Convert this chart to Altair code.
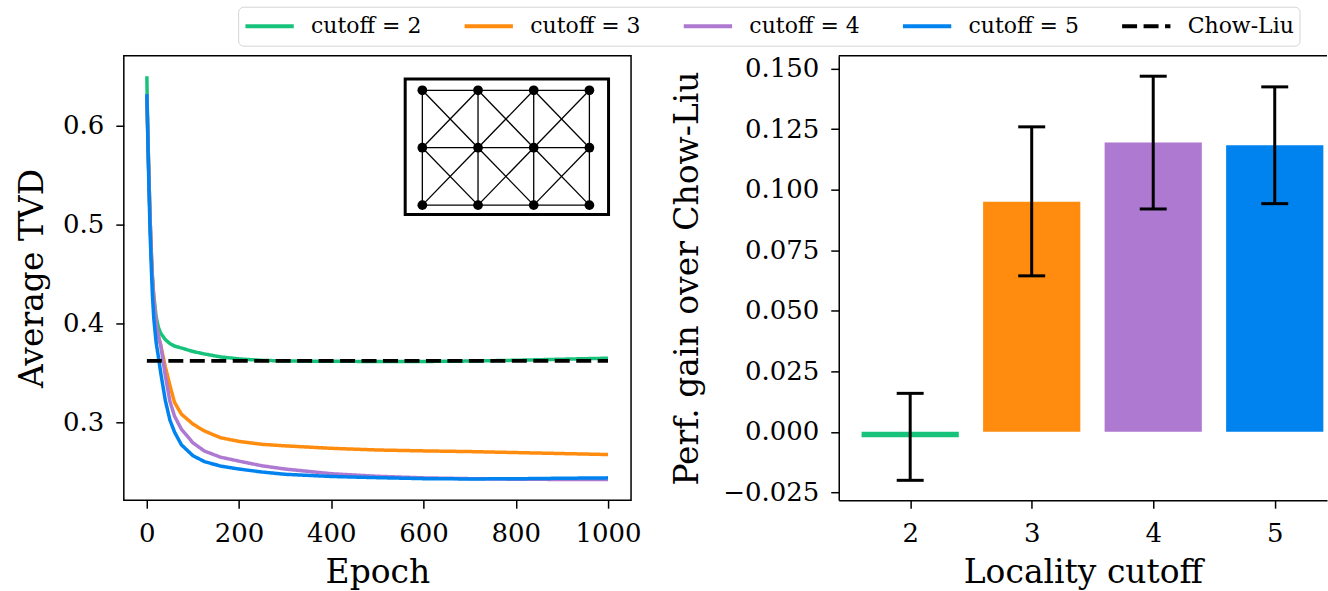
import altair as alt
import pandas as pd

FONT = "DejaVu Serif"

# ---------------- data: left panel (training curves) ----------------
EPOCHS = [0, 1, 2, 4, 7, 10, 12, 15, 20, 25, 30, 40, 50, 60, 75, 100, 125,
          160, 200, 250, 300, 400, 500, 600, 700, 800, 900, 1000]
TVD_CUT2 = [0.650, 0.618, 0.595, 0.556, 0.505, 0.465, 0.447, 0.428, 0.407,
            0.396, 0.390, 0.3835, 0.3795, 0.377, 0.375, 0.3715, 0.369, 0.366,
            0.364, 0.3625, 0.3619, 0.3616, 0.3614, 0.3614, 0.3618, 0.3626,
            0.3637, 0.3647]
TVD_CUT3 = [0.632, 0.612, 0.592, 0.555, 0.505, 0.467, 0.446, 0.424, 0.400,
            0.387, 0.378, 0.356, 0.337, 0.320, 0.308, 0.298, 0.291, 0.2842,
            0.2805, 0.2775, 0.2760, 0.2735, 0.2718, 0.2709, 0.2702, 0.2692,
            0.2682, 0.2672]
TVD_CUT4 = [0.632, 0.612, 0.592, 0.555, 0.505, 0.467, 0.446, 0.424, 0.400,
            0.387, 0.378, 0.347, 0.321, 0.306, 0.2928, 0.279, 0.2707, 0.2645,
            0.2605, 0.2558, 0.2525, 0.2478, 0.2452, 0.2436, 0.2428, 0.2422,
            0.2420, 0.2419]
TVD_CUT5 = [0.632, 0.610, 0.588, 0.547, 0.492, 0.452, 0.429, 0.405, 0.381,
            0.366, 0.350, 0.322, 0.302, 0.290, 0.277, 0.266, 0.260, 0.2555,
            0.2525, 0.2495, 0.2472, 0.2450, 0.2438, 0.2428, 0.2425, 0.2427,
            0.2432, 0.2436]
CHOW_LIU_TVD = 0.362

SERIES = ["cutoff = 2", "cutoff = 3", "cutoff = 4", "cutoff = 5", "Chow-Liu"]
COLORS = ["#17c37b", "#ff8c0e", "#ae79d1", "#0082ef", "#000000"]
DASHES = [[1, 0], [1, 0], [1, 0], [1, 0], [15, 6.5]]

# ---------------- data: right panel (bars) ----------------
CUTOFFS = [2, 3, 4, 5]
GAIN = [-0.0022, 0.0950, 0.1194, 0.1183]
ERR_LO = [-0.0200, 0.0644, 0.0920, 0.0942]
ERR_HI = [0.0159, 0.1259, 0.1468, 0.1424]

# ---------------- inset graph structure (3 x 4 king's graph) ----------------
GRID_COLS = [0, 1, 2, 3]
GRID_ROWS = [0, 1, 2]

# ---------------- build tables ----------------
rows = []
for name, vals in zip(SERIES[:4], [TVD_CUT2, TVD_CUT3, TVD_CUT4, TVD_CUT5]):
    for e, v in zip(EPOCHS, vals):
        rows.append({"epoch": e, "tvd": v, "series": name})
lines_df = pd.DataFrame(rows)
chow_df = pd.DataFrame([{"start": EPOCHS[0], "end": EPOCHS[-1],
                         "tvd": CHOW_LIU_TVD, "series": "Chow-Liu"}])

nodes_df = pd.DataFrame([{"c": c, "r": r} for r in GRID_ROWS for c in GRID_COLS])
edge_rows = []
cset, rset = set(GRID_COLS), set(GRID_ROWS)
for r in GRID_ROWS:
    for c in GRID_COLS:
        for dc, dr in [(1, 0), (0, 1), (1, 1), (-1, 1)]:
            if c + dc in cset and r + dr in rset:
                edge_rows.append({"c": c, "r": r, "c2": c + dc, "r2": r + dr})
edges_df = pd.DataFrame(edge_rows)
box_df = pd.DataFrame([{"c": min(GRID_COLS) - 0.308, "c2": max(GRID_COLS) + 0.344,
                        "r": min(GRID_ROWS) - 0.195, "r2": max(GRID_ROWS) + 0.165}])

bar_df = pd.DataFrame({"cutoff": CUTOFFS, "gain": GAIN, "lo": ERR_LO,
                       "hi": ERR_HI, "series": SERIES[:4]})

# ---------------- left panel ----------------
WL, WR, H = 508, 489, 445
TICK, LPAD = 8, 12

color_scale = alt.Scale(domain=SERIES, range=COLORS)
dash_scale = alt.Scale(domain=SERIES, range=DASHES)
legend = alt.Legend(orient="none", legendX=114.5, legendY=-49.2, direction="horizontal",
                    columns=5, title=None, symbolType="stroke", symbolSize=2343,
                    symbolStrokeWidth=4, clipHeight=29, labelFont=FONT,
                    labelFontSize=22, labelColor="black", labelOffset=15,
                    strokeColor="#d4d4d4", fillColor="white", padding=5,
                    cornerRadius=5, columnPadding=40.5)

x_ep = alt.X("epoch:Q", scale=alt.Scale(domain=[-50, 1050], nice=False, zero=False),
             axis=alt.Axis(title="Epoch", values=[0, 200, 400, 600, 800, 1000],
                           format="d", labelPadding=12, titlePadding=10))
y_tvd = alt.Y("tvd:Q", scale=alt.Scale(domain=[0.221, 0.6707], nice=False, zero=False),
              axis=alt.Axis(title="Average TVD", values=[0.3, 0.4, 0.5, 0.6],
                            format=".1f", labelPadding=LPAD, titlePadding=13))

lines = alt.Chart(lines_df).mark_line(strokeWidth=3.5).encode(
    x=x_ep, y=y_tvd,
    color=alt.Color("series:N", scale=color_scale, legend=legend),
    strokeDash=alt.StrokeDash("series:N", scale=dash_scale, legend=legend),
)
chow = alt.Chart(chow_df).mark_rule(strokeWidth=4).encode(
    x="start:Q", x2="end:Q", y="tvd:Q",
    color=alt.Color("series:N", scale=color_scale, legend=legend),
    strokeDash=alt.StrokeDash("series:N", scale=dash_scale, legend=legend),
)
main = alt.layer(lines, chow)

ix = alt.Scale(domain=[-5.361, 3.748], nice=False, zero=False)
iy = alt.Scale(domain=[-0.6, 7.139], nice=False, zero=False, reverse=True)
box = alt.Chart(box_df).mark_rect(fill="white", stroke="black", strokeWidth=3).encode(
    x=alt.X("c:Q", scale=ix, axis=None), x2="c2:Q",
    y=alt.Y("r:Q", scale=iy, axis=None), y2="r2:Q")
edges = alt.Chart(edges_df).mark_rule(color="black", strokeWidth=1.3).encode(
    x=alt.X("c:Q", scale=ix, axis=None), x2="c2:Q",
    y=alt.Y("r:Q", scale=iy, axis=None), y2="r2:Q")
nodes = alt.Chart(nodes_df).mark_circle(color="black", opacity=1, size=95).encode(
    x=alt.X("c:Q", scale=ix, axis=None),
    y=alt.Y("r:Q", scale=iy, axis=None))
inset = alt.layer(box, edges, nodes)

left = alt.layer(main, inset).resolve_scale(x="independent", y="independent").properties(
    width=WL, height=H)

# ---------------- right panel ----------------
STEP = 121.7  # px per cutoff unit in the reference
x_lo = 1.412
x_cut = alt.X("x0:Q", scale=alt.Scale(domain=[x_lo, x_lo + WR / STEP], nice=False, zero=False),
              axis=alt.Axis(title="Locality cutoff", values=CUTOFFS, format="d",
                            labelPadding=12, titlePadding=10, domain=True,
                            domainColor="black", domainWidth=1.5))
y_gain = alt.Y("gain:Q", scale=alt.Scale(domain=[-0.0282, 0.1552], nice=False, zero=False),
               axis=alt.Axis(title="Perf. gain over Chow-Liu",
                             values=[-0.025, 0, 0.025, 0.05, 0.075, 0.1, 0.125, 0.15],
                             format=".3f", labelPadding=LPAD, titlePadding=18,
                             domain=True, domainColor="black", domainWidth=1.5))
base = alt.Chart(bar_df).transform_calculate(
    x0="datum.cutoff - 0.4", x1="datum.cutoff + 0.4", base="0")
bars = base.mark_bar().encode(
    x=x_cut, x2="x1:Q", y=y_gain, y2="base:Q",
    color=alt.Color("series:N", scale=alt.Scale(domain=SERIES[:4], range=COLORS[:4]),
                    legend=None))
err = alt.Chart(bar_df).mark_rule(color="black", strokeWidth=3).encode(
    x="cutoff:Q", y="lo:Q", y2="hi:Q")
cap_lo = alt.Chart(bar_df).mark_tick(color="black", size=27, thickness=3,
                                     orient="horizontal", opacity=1).encode(
    x="cutoff:Q", y="lo:Q")
cap_hi = alt.Chart(bar_df).mark_tick(color="black", size=27, thickness=3,
                                     orient="horizontal", opacity=1).encode(
    x="cutoff:Q", y="hi:Q")
top_spine = alt.Chart(pd.DataFrame({"k": [0]})).mark_rule(
    color="black", strokeWidth=1.5).encode(
    x=alt.value(0), x2=alt.value(WR), y=alt.value(0))
right = alt.layer(bars, err, cap_lo, cap_hi, top_spine).properties(
    width=WR, height=H, view=alt.ViewBackground(strokeOpacity=0))

chart = alt.hconcat(left, right, spacing=208, bounds="flush").resolve_scale(
    color="independent", strokeDash="independent"
).properties(
    padding={"left": 15, "top": 4.5, "right": 0, "bottom": 0}
).configure_view(
    stroke="black", strokeWidth=1.5
).configure_axis(
    labelFont=FONT, labelFontSize=26, titleFont=FONT, titleFontSize=33,
    titleFontWeight="normal", labelColor="black", titleColor="black",
    tickColor="black", tickSize=TICK, tickWidth=1.5, domain=False, grid=False
)

chart.save("out.html", embed_options={"renderer": "svg", "actions": False})
